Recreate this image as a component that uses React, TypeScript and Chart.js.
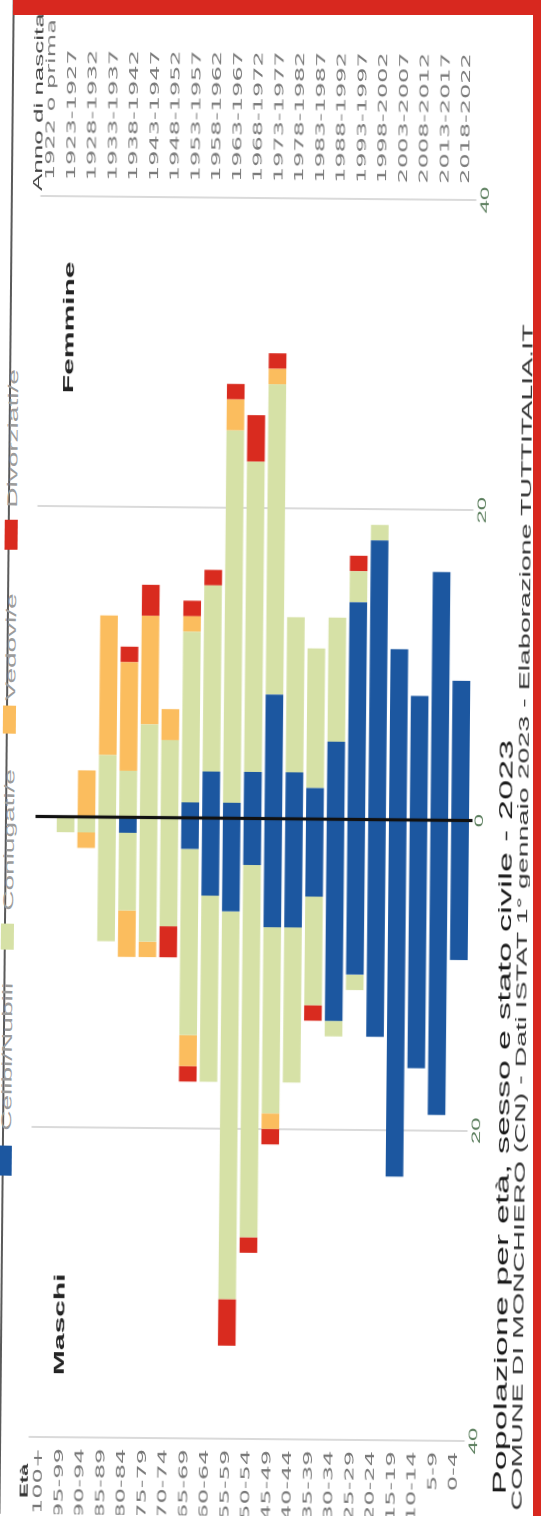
import { useEffect, useRef } from 'react';
import { Chart, registerables } from 'chart.js';

Chart.register(...registerables);

// ---- data (index 0 = oldest age group) ----
const ageGroups = ['100+', '95-99', '90-94', '85-89', '80-84', '75-79', '70-74', '65-69', '60-64', '55-59', '50-54', '45-49', '40-44', '35-39', '30-34', '25-29', '20-24', '15-19', '10-14', '5-9', '0-4'];
const birthYears = ['1922 o prima', '1923-1927', '1928-1932', '1933-1937', '1938-1942', '1943-1947', '1948-1952', '1953-1957', '1958-1962', '1963-1967', '1968-1972', '1973-1977', '1978-1982', '1983-1987', '1988-1992', '1993-1997', '1998-2002', '2003-2007', '2008-2012', '2013-2017', '2018-2022'];

const maleCelibi = [0, 0, 0, 0, 1, 0, 0, 2, 5, 6, 3, 7, 7, 5, 13, 10, 14, 23, 16, 19, 9];
const maleConiugati = [0, 1, 1, 8, 5, 8, 7, 12, 12, 25, 24, 12, 10, 7, 1, 1, 0, 0, 0, 0, 0];
const maleVedovi = [0, 0, 1, 0, 3, 1, 0, 2, 0, 0, 0, 1, 0, 0, 0, 0, 0, 0, 0, 0, 0];
const maleDivorziati = [0, 0, 0, 0, 0, 0, 2, 1, 0, 3, 1, 1, 0, 1, 0, 0, 0, 0, 0, 0, 0];

const femaleNubili = [0, 0, 0, 0, 0, 0, 0, 1, 3, 1, 3, 8, 3, 2, 5, 14, 18, 11, 8, 16, 9];
const femaleConiugate = [0, 0, 0, 4, 3, 6, 5, 11, 12, 24, 20, 20, 10, 9, 8, 2, 1, 0, 0, 0, 0];
const femaleVedove = [0, 0, 3, 9, 7, 7, 2, 1, 0, 2, 0, 1, 0, 0, 0, 0, 0, 0, 0, 0, 0];
const femaleDivorziate = [0, 0, 0, 0, 1, 2, 0, 1, 1, 1, 3, 1, 0, 0, 0, 1, 0, 0, 0, 0, 0];

const xTicks = [-40, -20, 0, 20, 40];
const statusLabels = ['Celibi/Nubili', 'Coniugati/e', 'Vedovi/e', 'Divorziati/e'];
const statusColors = ['#1c57a0', '#d6e1a6', '#fbbd5e', '#d92b1f'];

const titleText = 'Popolazione per età, sesso e stato civile - 2023';
const subtitleText = 'COMUNE DI MONCHIERO (CN) - Dati ISTAT 1° gennaio 2023 - Elaborazione TUTTITALIA.IT';

// ---- layout (unrotated, unstretched box 758 x 541) ----
const BOX_W = 758;
const BOX_H = 541;
const LEGEND_POS = [
  { sq: 169, w: 15, txt: 191.5 },
  { sq: 281.5, w: 13.5, txt: 301.5 },
  { sq: 389.5, w: 14.5, txt: 406.5 },
  { sq: 481.5, w: 15, txt: 503 },
];

const zeroLine = {
  id: 'zeroLine',
  afterDatasetsDraw(chart: any) {
    const { ctx, chartArea, scales } = chart;
    const x = scales.x.getPixelForValue(0);
    ctx.save();
    ctx.strokeStyle = '#111';
    ctx.lineWidth = 1.6;
    ctx.beginPath();
    ctx.moveTo(x, chartArea.top + 1);
    ctx.lineTo(x, chartArea.bottom + 2);
    ctx.stroke();
    ctx.restore();
  },
};

function Pyramid() {
  const ref = useRef<HTMLCanvasElement | null>(null);
  useEffect(() => {
    if (!ref.current) return;
    const maleSeries = [maleCelibi, maleConiugati, maleVedovi, maleDivorziati];
    const femaleSeries = [femaleNubili, femaleConiugate, femaleVedove, femaleDivorziate];
    const datasets: any[] = [];
    maleSeries.forEach((arr, i) => {
      datasets.push({
        label: statusLabels[i],
        data: arr.map((v) => -v),
        backgroundColor: statusColors[i],
        borderWidth: 0,
        stack: 'all',
      });
    });
    femaleSeries.forEach((arr, i) => {
      datasets.push({
        label: statusLabels[i],
        data: arr,
        backgroundColor: statusColors[i],
        borderWidth: 0,
        stack: 'all',
      });
    });
    const chart = new Chart(ref.current, {
      type: 'bar',
      data: { labels: ageGroups, datasets },
      options: {
        indexAxis: 'y',
        animation: false,
        responsive: false,
        devicePixelRatio: 2,
        layout: { padding: { top: 34.5, bottom: 0, left: 0, right: 0 } },
        datasets: { bar: { categoryPercentage: 1, barPercentage: 0.85 } },
        plugins: { legend: { display: false }, title: { display: false }, tooltip: { enabled: false } },
        scales: {
          x: {
            type: 'linear',
            min: -40,
            max: 40,
            stacked: true,
            afterBuildTicks: (axis: any) => {
              axis.ticks = xTicks.map((v) => ({ value: v }));
            },
            ticks: {
              callback: (v: any) => String(Math.abs(Number(v))),
              color: '#5a7d5c',
              font: { family: '"Liberation Sans", Arial, sans-serif', size: 12 },
              padding: 2,
              maxRotation: 0,
            },
            grid: {
              color: (c: any) => (c.tick && c.tick.value === 0 ? 'rgba(0,0,0,0)' : '#dadada'),
              drawTicks: false,
            },
            border: { display: false },
            afterFit: (axis: any) => {
              axis.height = 70.5;
            },
          },
          y: {
            type: 'category',
            position: 'left',
            stacked: true,
            offset: true,
            grid: { display: false, drawTicks: false },
            border: { display: false },
            ticks: {
              color: '#777',
              font: { family: '"DejaVu Sans", sans-serif', size: 12 },
              padding: 5.5,
              autoSkip: false,
            },
            afterFit: (axis: any) => {
              axis.width = 38.5;
            },
          },
          y2: {
            type: 'category',
            position: 'right',
            labels: birthYears,
            offset: true,
            grid: { display: false, drawTicks: false },
            border: { display: false },
            ticks: {
              color: '#7a7a7a',
              font: { family: '"DejaVu Sans", sans-serif', size: 12 },
              padding: 8,
              autoSkip: false,
            },
            afterFit: (axis: any) => {
              axis.width = 99;
            },
          },
        },
      },
      plugins: [zeroLine],
    });
    return () => chart.destroy();
  }, []);
  return <canvas ref={ref} width={BOX_W} height={BOX_H} style={{ position: 'absolute', left: 0, top: 0 }} />;
}

const txt = (fs: number, baseline: number, left: number, extra: any = {}) => ({
  position: 'absolute' as const,
  left,
  top: baseline - 0.846 * fs,
  fontSize: fs,
  lineHeight: 1,
  whiteSpace: 'nowrap' as const,
  ...extra,
});

export default function App() {
  const innerStyle: any = {
    position: 'absolute',
    left: 0,
    top: 0,
    width: BOX_W,
    height: BOX_H,
    transformOrigin: '0 0',
    transform:
      'translate(255px, 818px) rotate(0.54deg) translate(-255px, -818px) translate(0px, 1516px) rotate(-90deg) scale(2, 1)',
    fontFamily: '"Liberation Sans", Arial, sans-serif',
    background: '#fff',
  };
  return (
    <div style={{ position: 'absolute', left: 0, top: 0, width: 541, height: 1516, overflow: 'hidden', background: '#fff' }}>
      <div style={innerStyle}>
        <div style={{ position: 'absolute', left: 0, top: 5, width: BOX_W, height: 2, background: '#5a5a5a' }} />
        {statusLabels.map((label, i) => (
          <div key={label}>
            <div
              style={{
                position: 'absolute',
                left: LEGEND_POS[i].sq,
                top: 2,
                width: LEGEND_POS[i].w,
                height: 13,
                background: statusColors[i],
              }}
            />
            <div style={txt(14, 14, LEGEND_POS[i].txt, { color: '#9c9c9c' })}>{label}</div>
          </div>
        ))}
        <Pyramid />
        <div style={txt(11, 34, 8, { color: '#333', fontWeight: 'bold' })}>Età</div>
        <div style={txt(13, 36, 661.5, { color: '#444' })}>Anno di nascita</div>
        <div style={txt(15, 69, 69.5, { color: '#222', fontWeight: 'bold' })}>Maschi</div>
        <div style={txt(15, 69, 560.5, { color: '#222', fontWeight: 'bold' })}>Femmine</div>
        <div style={txt(18, 512, 12, { color: '#1a1a1a' })}>{titleText}</div>
        <div style={txt(14.3, 528, 4, { color: '#333' })}>{subtitleText}</div>
      </div>
      <div style={{ position: 'absolute', left: 13, top: 0, width: 528, height: 15, background: '#d8281f' }} />
      <div style={{ position: 'absolute', left: 533, top: 0, width: 8, height: 1516, background: '#d8281f' }} />
    </div>
  );
}
